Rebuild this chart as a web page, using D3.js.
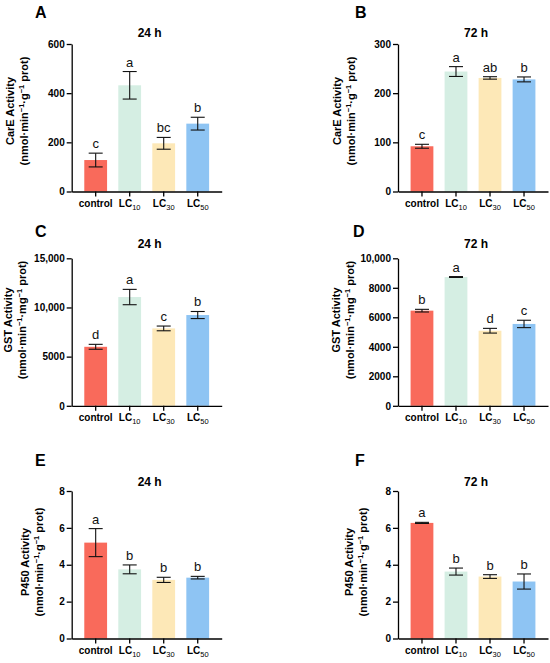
<!DOCTYPE html>
<html lang="en">
<head>
<meta charset="UTF-8">
<title>Enzyme activity</title>
<script src="https://d3js.org/d3.v7.min.js"></script>
<style>
  body { margin: 0; background: #fff; }
  svg { font-family: Arial, "Liberation Sans", sans-serif; }
  .tick text { font-size: 10px; font-weight: bold; fill: #000; }
  .domain, .tick line { stroke: #000; stroke-width: 1.3px; }
</style>
</head>
<body>
<script>
// treatments (base + subscript)
var catBase = ["control", "LC", "LC", "LC"];
var catSub = ["", "10", "30", "50"];
var barColors = ["#f96a5b", "#d5eee3", "#fde8b7", "#8ec4f3"];

// CarE 24 h
var carE24 = [128, 432, 196, 276];
var carE24Err = [28, 56, 24, 26];
var carE24Sig = ["c", "a", "bc", "b"];
var carE24Ticks = [0, 200, 400, 600];

// CarE 72 h
var carE72 = [92, 244, 231, 228];
var carE72Err = [4, 10, 2.5, 5];
var carE72Sig = ["c", "a", "ab", "b"];
var carE72Ticks = [0, 100, 200, 300];

// GST 24 h
var gst24 = [6000, 11060, 7870, 9230];
var gst24Err = [250, 780, 240, 360];
var gst24Sig = ["d", "a", "c", "b"];
var gst24Ticks = [0, 5000, 10000, 15000];

// GST 72 h
var gst72 = [6450, 8730, 5090, 5550];
var gst72Err = [90, 30, 160, 250];
var gst72Sig = ["b", "a", "d", "c"];
var gst72Ticks = [0, 2000, 4000, 6000, 8000, 10000];

// P450 24 h
var p45024 = [5.2, 3.75, 3.18, 3.3];
var p45024Err = [0.76, 0.24, 0.14, 0.07];
var p45024Sig = ["a", "b", "b", "b"];
var p45024Ticks = [0, 2, 4, 6, 8];

// P450 72 h
var p45072 = [6.27, 3.63, 3.36, 3.09];
var p45072Err = [0.03, 0.19, 0.1, 0.41];
var p45072Sig = ["a", "b", "b", "b"];
var p45072Ticks = [0, 2, 4, 6, 8];

var panels = [
  {letter: "A", title: "24 h", col: 0, row: 0, name: "CarE Activity", unit: "g", vals: carE24, err: carE24Err, sig: carE24Sig, ticks: carE24Ticks},
  {letter: "B", title: "72 h", col: 1, row: 0, name: "CarE Activity", unit: "g", vals: carE72, err: carE72Err, sig: carE72Sig, ticks: carE72Ticks},
  {letter: "C", title: "24 h", col: 0, row: 1, name: "GST Activity", unit: "mg", vals: gst24, err: gst24Err, sig: gst24Sig, ticks: gst24Ticks},
  {letter: "D", title: "72 h", col: 1, row: 1, name: "GST Activity", unit: "mg", vals: gst72, err: gst72Err, sig: gst72Sig, ticks: gst72Ticks},
  {letter: "E", title: "24 h", col: 0, row: 2, name: "P450 Activity", unit: "g", vals: p45024, err: p45024Err, sig: p45024Sig, ticks: p45024Ticks},
  {letter: "F", title: "72 h", col: 1, row: 2, name: "P450 Activity", unit: "g", vals: p45072, err: p45072Err, sig: p45072Sig, ticks: p45072Ticks}
];

// layout
var colX = [71.7, 398],
    rowTop = [44, 258.3, 491],
    titleY = [37, 248, 486],
    labelY = [111, 320, 562],
    letterX = [35, 355],
    letterY = [18, 237, 466],
    labelOff = [43.7, 42.7, 45.7, 44, 29, 31],  // axis -> 2nd label line
    plotW = 150, plotH = 147.5;

var svg = d3.select("body").append("svg")
    .attr("width", 550)
    .attr("height", 663);

var fmt = function(v) { return v >= 10000 ? d3.format(",")(v) : String(v); };

panels.forEach(function(p, i) {
  var x0 = colX[p.col], y0 = rowTop[p.row];
  var g = svg.append("g").attr("transform", "translate(" + x0 + "," + y0 + ")");

  var x = d3.scaleBand().domain(d3.range(4)).range([0, plotW])
      .paddingInner(0.33).paddingOuter(0.37);
  var y = d3.scaleLinear().domain([0, d3.max(p.ticks)]).range([plotH, 0]);

  // bars
  g.selectAll(".bar").data(p.vals).enter().append("rect")
      .attr("x", function(d, j) { return x(j); })
      .attr("y", function(d) { return y(d); })
      .attr("width", x.bandwidth())
      .attr("height", function(d) { return plotH - y(d); })
      .attr("fill", function(d, j) { return barColors[j]; });

  // error bars
  var capW = 14;
  var eb = g.selectAll(".err").data(p.vals).enter().append("g")
      .attr("transform", function(d, j) { return "translate(" + (x(j) + x.bandwidth() / 2) + ",0)"; })
      .attr("stroke", "#111").attr("stroke-width", 1.1);
  eb.append("line")
      .attr("y1", function(d, j) { return y(d + p.err[j]); })
      .attr("y2", function(d, j) { return y(d - p.err[j]); });
  eb.append("line").attr("x1", -capW / 2).attr("x2", capW / 2)
      .attr("y1", function(d, j) { return y(d + p.err[j]); })
      .attr("y2", function(d, j) { return y(d + p.err[j]); });
  eb.append("line").attr("x1", -capW / 2).attr("x2", capW / 2)
      .attr("y1", function(d, j) { return y(d - p.err[j]); })
      .attr("y2", function(d, j) { return y(d - p.err[j]); });

  // significance letters
  g.selectAll(".sig").data(p.vals).enter().append("text")
      .attr("x", function(d, j) { return x(j) + x.bandwidth() / 2; })
      .attr("y", function(d, j) { return y(d + p.err[j]) - 5; })
      .attr("text-anchor", "middle")
      .style("font-size", "13px")
      .attr("fill", "#111")
      .text(function(d, j) { return p.sig[j]; });

  // axes
  g.append("g")
      .call(d3.axisLeft(y).tickValues(p.ticks).tickFormat(fmt)
          .tickSize(5).tickSizeOuter(0).tickPadding(2));

  var xa = g.append("g")
      .attr("transform", "translate(0," + plotH + ")")
      .call(d3.axisBottom(x).tickSize(5).tickSizeOuter(0).tickPadding(3).tickFormat(""));
  xa.selectAll(".tick text").each(function(d) {
    var t = d3.select(this);
    t.append("tspan").text(catBase[d]);
    if (catSub[d]) {
      t.append("tspan").attr("dy", 3).style("font-size", "7.5px")
          .style("font-weight", "normal").text(catSub[d]);
    }
  });

  // title
  svg.append("text")
      .attr("x", x0 + plotW / 2 + 3)
      .attr("y", titleY[p.row])
      .attr("text-anchor", "middle")
      .style("font-size", "12px").style("font-weight", "bold")
      .text(p.title);

  // panel letter
  svg.append("text")
      .attr("x", letterX[p.col] + (p.letter === "D" ? -2 : 0))
      .attr("y", letterY[p.row])
      .style("font-size", "16px").style("font-weight", "bold")
      .text(p.letter);

  // y label, two lines
  var lx = x0 - labelOff[i];
  var lab = svg.append("g")
      .attr("transform", "translate(" + lx + "," + labelY[p.row] + ") rotate(-90)")
      .style("font-size", "11px").style("font-weight", "bold");
  lab.append("text").attr("y", -14).attr("text-anchor", "middle").text(p.name);
  var t2 = lab.append("text").attr("text-anchor", "middle");
  t2.append("tspan").text("(nmol·min");
  t2.append("tspan").attr("dy", -4).style("font-size", "7.5px").text("−1");
  t2.append("tspan").attr("dy", 4).text("·" + p.unit);
  t2.append("tspan").attr("dy", -4).style("font-size", "7.5px").text("−1");
  t2.append("tspan").attr("dy", 4).text(" prot)");
});
</script>
</body>
</html>
